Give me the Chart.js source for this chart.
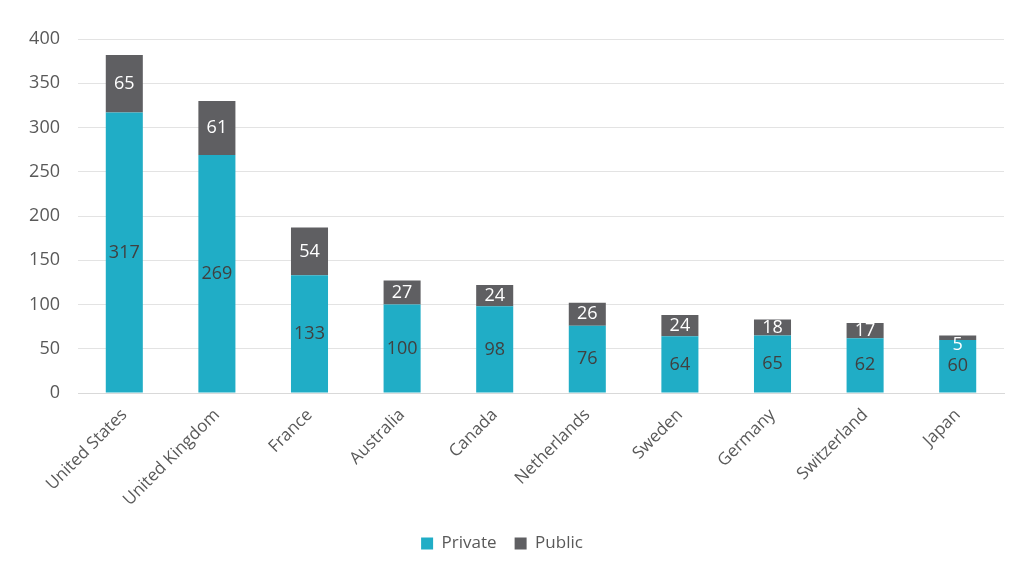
<!DOCTYPE html>
<html><head><meta charset="utf-8">
<script src="https://cdn.jsdelivr.net/npm/chart.js@4"></script>
<style>html,body{margin:0;padding:0;background:#fff}#wrap{width:1024px;height:584px}</style>
</head><body><div id="wrap"><canvas id="c"></canvas></div>
<script>
const categories = ["United States","United Kingdom","France","Australia","Canada","Netherlands","Sweden","Germany","Switzerland","Japan"];
const privateVals = [317,269,133,100,98,76,64,65,62,60];
const publicVals = [65,61,54,27,24,26,24,18,17,5];
const yTicks = [0,50,100,150,200,250,300,350,400];

const FONT = "'Open Sans', sans-serif";
const labelPlugin = {
  id: 'segLabels',
  afterDatasetsDraw(chart) {
    const ctx = chart.ctx;
    ctx.save();
    ctx.font = "18px " + FONT;
    ctx.textAlign = 'center';
    ctx.textBaseline = 'middle';
    chart.data.datasets.forEach((ds, di) => {
      const meta = chart.getDatasetMeta(di);
      meta.data.forEach((bar, i) => {
        const v = ds.data[i];
        const top = Math.min(bar.y, bar.base), bot = Math.max(bar.y, bar.base);
        let y = (top + bot) / 2;
        if (bot - top < 10) y = top + 9;
        ctx.fillStyle = ds.labelColor;
        ctx.fillText(String(v), bar.x, y);
      });
    });
    ctx.restore();
  }
};

new Chart(document.getElementById('c'), {
  type: 'bar',
  data: {
    labels: categories,
    datasets: [
      {label: 'Private', data: privateVals, backgroundColor: '#20adc6', labelColor: '#404040', barPercentage: 0.4, categoryPercentage: 1},
      {label: 'Public', data: publicVals, backgroundColor: '#5f5f62', labelColor: '#ffffff', barPercentage: 0.4, categoryPercentage: 1}
    ]
  },
  options: {
    responsive: true, maintainAspectRatio: false, animation: false,
    layout: {padding: {top: 39, right: 20, bottom: 22, left: 0}},
    plugins: {
      tooltip: {enabled: false},
      legend: {position: 'bottom', labels: {boxWidth: 12, boxHeight: 12, padding: 18, color: '#595959', font: {family: FONT, size: 17}}}
    },
    scales: {
      x: {stacked: true, grid: {display: false}, border: {color: '#d9d9d9'},
          afterFit(s){ s.height = 124; },
          ticks: {color: '#595959', font: {family: FONT, size: 17}, maxRotation: 45, minRotation: 45, padding: 4}},
      y: {stacked: true, min: 0, max: 400, afterFit(s){ s.width = 78; },
          afterBuildTicks(s){ s.ticks = yTicks.map(v => ({value: v})); },
          grid: {color: '#e3e3e3', drawTicks: false}, border: {display: false},
          ticks: {color: '#595959', font: {family: FONT, size: 18}, padding: 18}}
    }
  },
  plugins: [labelPlugin]
});
</script></body></html>
